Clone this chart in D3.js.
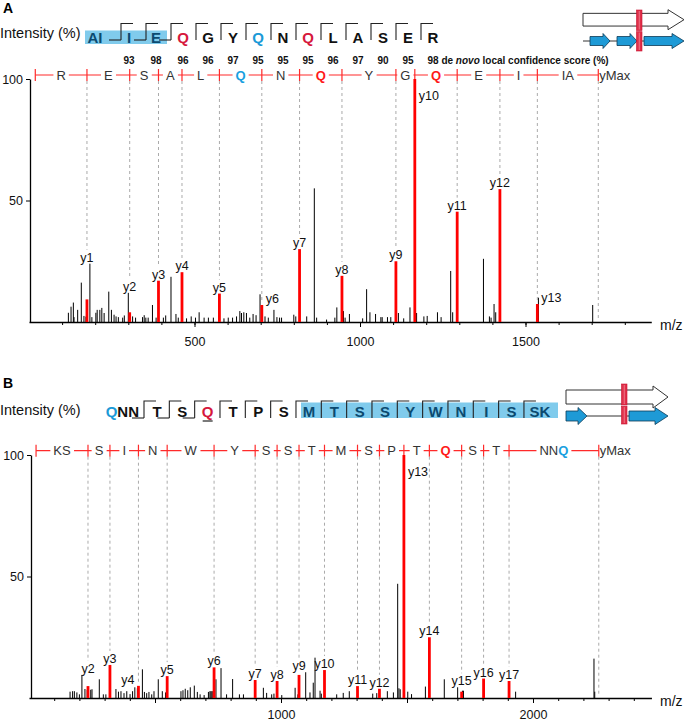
<!DOCTYPE html>
<html><head><meta charset="utf-8">
<script src="https://cdn.jsdelivr.net/npm/d3@7"></script>
<style>body{margin:0;background:#fff}svg{display:block;font-family:"Liberation Sans",Arial,sans-serif}</style>
</head><body><svg id="c" width="685" height="723"></svg>
<script>
// ================= DATA =================
// Panel A
const seqA = ["AI","I","E","Q*","G","Y","Q^","N","Q*","L","A","S","E","R"];
const confA = [93,98,96,96,97,95,95,95,96,97,90,95,98];
const ladderA = ["R","E","S","A","L","Q^","N","Q*","Y","G","Q*","E","I","IA"];
const ladderMzA = [19,175.1,304.2,391.2,462.2,575.3,703.4,817.4,945.5,1108.5,1165.6,1293.6,1422.7,1535.8,1719.9];
const ionNamesA = ["y1","y2","y3","y4","y5","y6","y7","y8","y9","y10","y11","y12","y13"];
const ionIntA = [9.3,4,17,20.5,11.7,7,30,19,25,100,45.4,54.7,7.4];
const peaksA = [[119,3.8],[127,6.3],[134,8],[136,2],[147,5],[158,16.2],[166,2.5],[172,2.2],[184,24],[190,2],
 [202,3.8],[206,5],[214,5],[220,5.8],[227,3.7],[241,12.5],[249,5],[257,3],[263,2.3],[270,2],[283,1.8],[288,2.7],
 [300,12],[313,2.3],[322,1.8],[343,2],[348,2.8],[353,1.8],[360,1.8],[373,7],[384,1.8],[406,1.8],[413,2.7],
 [429,18.6],[444,3.3],[451,1.8],[476,1.5],[490,2.3],[503,1.8],[514,4],[529,1.8],[542,1.8],[557,1.8],[589,1.5],
 [602,1.8],[615,1.8],[627,2.3],[637,4.5],[642,3.7],[649,4],[657,3.7],[667,1.8],[677,3.3],[686,2.8],[698,11.4],
 [713,2.3],[723,1.8],[740,5],[749,2],[757,1.8],[763,1.8],[800,3],[806,2.3],[839,2.3],[862,55],[869,1.8],[899,1],
 [924,1.8],[930,6],[950,4.5],[955,1.8],[968,3.3],[1008,1.5],[1020,13.5],[1030,4],[1047,3.3],[1063,2],[1067,2],
 [1083,2],[1093,2],[1116,3.7],[1132,1.5],[1151,6],[1171,3.7],[1193,2.3],[1203,2.5],[1234,4],[1245,2],[1274,21],
 [1280,4],[1373,26],[1391,2.3],[1396,1.8],[1405,7.4],[1410,4],[1539,10],[1703,7]];
const tickLabelsA = [500,1000,1500];

// Panel B
const seqB = ["Q^","N","N","T","S","Q*","T","P","S","M","T","S","S","Y","W","N","I","S","SK"];
const ladderB = ["KS","S","I","N","W","Y","S","S","T","M","S","P","T","Q*","S","T","NNQ^"];
const ladderMzB = [28,234.1,321.2,434.3,548.3,734.4,897.5,984.5,1071.5,1172.6,1303.6,1390.7,1487.7,1588.8,1716.8,1803.9,1905.0,2261.0];
const ionNamesB = ["y2","y3","y4","y5","y6","y7","y8","y9","y10","y11","y12","y13","y14","y15","y16","y17"];
const ionIntB = [4.9,13.6,5,9,12.6,7.4,7,9.5,11.5,4.9,3.8,100,25,2.6,8,7];
const peaksB = [[163,2.6],[173,2.8],[180,2.8],[190,2.3],[200,1.5],[210,9.5],[222,3.7],[231,3.4],[245,3.4],[250,3.6],
 [279,7.7],[295,1.5],[305,1.5],[345,3.7],[355,2.6],[365,2.8],[377,2],[388,2.8],[401,1.6],[411,2.8],[420,4.4],[430,4],
 [450,11.8],[458,2.5],[467,2],[476,2.5],[487,1.5],[496,2.8],[513,7.7],[529,2.8],[542,2.3],[603,2.8],[611,3.2],[620,3.8],
 [630,3.2],[640,4.4],[656,5.1],[668,2.5],[679,1.5],[695,1.2],[712,2.5],[718,2.8],[722,2.8],[726,2.8],[730,2.8],[742,7.7],
 [762,12.3],[784,1.5],[808,7.8],[835,1.5],[851,1.5],[930,4.2],[943,2.1],[963,1.5],[972,1.8],[1003,1.2],[1056,4.2],
 [1067,1.5],[1098,10.6],[1115,2.3],[1128,6.3],[1135,16.6],[1155,3],[1160,1.8],[1221,1.5],[1247,2.1],[1271,2.8],
 [1364,1.8],[1380,2],[1422,2.8],[1446,2.3],[1463,47],[1468,4],[1473,3.6],[1503,2.6],[1518,1.6],[1573,4.7],[1648,7.7],
 [1701,4.4],[1720,3],[1724,3],[1931,2.6],[2242,16.2],[2245,2.6]];
const tickLabelsB = [1000,2000];

// ================= DRAW =================
const svg = d3.select("#c");
const COL = {r:"#ff1a1a", b:"#1aa0e0", n:"#333"};
const SEQCOL = {r:"#d6183c", b:"#1b9ad7", n:"#111", h:"#0b4a70"};

function segs(s){
  const out=[]; const re=/([A-Za-z])([*^]?)/g; let m;
  while((m=re.exec(s))){
    const st = m[2]==='*'?'r':(m[2]==='^'?'b':'n');
    if(out.length && out[out.length-1].st===st) out[out.length-1].t+=m[1];
    else out.push({t:m[1],st});
  }
  return out;
}
function arrowPath(x1,x2,head,yc,bh,hh){
  const xs=x2-head;
  return `M${x1},${yc-bh/2}H${xs}V${yc-hh/2}L${x2},${yc}L${xs},${yc+hh/2}V${yc+bh/2}H${x1}Z`;
}

function drawPanel(P){
  const g = svg.append("g");
  g.append("text").attr("x",3).attr("y",P.nameY).text(P.name)
    .attr("font-weight","bold").attr("font-size",14).attr("fill","#000");
  g.append("text").attr("x",0).attr("y",P.introY).text("Intensity (%)")
    .attr("font-size",14.5).attr("fill","#111");

  // ---- sequence with highlight and fragment brackets
  g.append("rect").attr("x",P.hi[0]).attr("y",P.hiY[0]).attr("width",P.hi[1]-P.hi[0])
    .attr("height",P.hiY[1]-P.hiY[0]).attr("fill","#80cbec");
  const br = g.append("g").attr("stroke","#222").attr("stroke-width",1.1).attr("fill","none");
  P.seq.forEach((tok,k)=>{
    if(k<P.first) return;
    const x = P.bx(k);
    br.append("path").attr("d",`M${x},${P.brY[1]}V${P.brY[0]}h12`);
    if(P.botLeft.includes(k)) br.append("path").attr("d",`M${x},${P.brY[1]}h-12`);
  });
  const inHi = k => k>=P.hiTok[0] && k<=P.hiTok[1];
  if(P.group>0){
    const t = g.append("text").attr("x",P.bx(P.group)-5).attr("y",P.seqY).attr("text-anchor","end")
      .attr("font-weight","bold").attr("font-size",15);
    P.seq.slice(0,P.group).forEach(tok=>segs(tok).forEach(s=>t.append("tspan").text(s.t).attr("fill",SEQCOL[s.st])));
  }
  P.seq.forEach((tok,k)=>{
    if(k<P.group) return;
    const cx = P.cx(k);
    const t = g.append("text").attr("x",cx).attr("y",P.seqY).attr("text-anchor","middle")
      .attr("font-weight","bold").attr("font-size",15);
    segs(tok).forEach(s=>{
      let c = SEQCOL[s.st];
      if(s.st==='n' && inHi(k)) c = SEQCOL.h;
      t.append("tspan").text(s.t).attr("fill",c);
    });
    if(P.underline===k){
      g.append("line").attr("x1",cx-5).attr("x2",cx+5).attr("y1",P.seqY+4).attr("y2",P.seqY+4)
        .attr("stroke","#222").attr("stroke-width",1.2);
    }
  });
  if(P.conf){
    P.conf.forEach((v,i)=>{
      const k=i+1, cx=P.cx(k);
      if(i<P.conf.length-1){
        g.append("text").attr("x",cx).attr("y",64).attr("text-anchor","middle")
          .attr("font-weight","bold").attr("font-size",10).attr("fill","#111").text(v);
      } else {
        const t=g.append("text").attr("x",cx-5.5).attr("y",64).attr("font-weight","bold")
          .attr("font-size",10).attr("fill","#111");
        t.append("tspan").text(v+" de ");
        t.append("tspan").text("novo").attr("font-style","italic");
        t.append("tspan").text(" local confidence score (%)");
      }
    });
  }

  // ---- gene arrows
  const ar = P.arrows;
  g.append("path").attr("d",arrowPath(ar.out[0],ar.out[1],ar.out[2],ar.outY,ar.outBH,ar.outHH))
    .attr("fill","#fff").attr("stroke","#333").attr("stroke-width",1);
  g.append("line").attr("x1",ar.line[0]).attr("x2",ar.line[1]).attr("y1",ar.blueY).attr("y2",ar.blueY)
    .attr("stroke","#333").attr("stroke-width",1);
  ar.blue.forEach(b=>{
    g.append("path").attr("d",arrowPath(b[0],b[1],b[2],ar.blueY,ar.blueBH,ar.blueHH))
      .attr("fill","#1e9ad6").attr("stroke","#0d3a55").attr("stroke-width",0.8);
  });
  [[ar.redY[0],ar.redY[1]],[ar.redY[1]+1.2,ar.redY[2]]].forEach(r=>{
    g.append("rect").attr("x",ar.redX).attr("y",r[0]).attr("width",5.5).attr("height",r[1]-r[0])
      .attr("fill","#e0304a").attr("stroke","#c8102e").attr("stroke-width",0.6);
    g.append("line").attr("x1",ar.redX+2.75).attr("x2",ar.redX+2.75).attr("y1",r[0]+1).attr("y2",r[1]-1)
      .attr("stroke","#f08a98").attr("stroke-width",0.8);
  });

  // ---- scales and axes
  const x = d3.scaleLinear().domain(P.xDomain).range(P.xRange);
  const y = d3.scaleLinear().domain([0,100]).range(P.yRange);
  const y0 = y(0);
  const minor = d3.range(100, P.xDomain[1]+1, 100);
  const major = d3.range(500, P.xDomain[1]+1, 500);
  g.append("g").attr("transform",`translate(0,${y0})`)
    .call(d3.axisBottom(x).tickValues(minor).tickSize(3).tickSizeOuter(0).tickFormat(""))
    .call(a=>{a.select(".domain").attr("stroke","#000").attr("stroke-width",1.3);a.selectAll("line").attr("stroke","#000");});
  g.append("g").attr("transform",`translate(0,${y0})`)
    .call(d3.axisBottom(x).tickValues(major).tickSize(5).tickSizeOuter(0).tickPadding(P.tickPad)
      .tickFormat(d=>P.tickLabels.includes(d)?d:""))
    .call(a=>{a.select(".domain").remove();a.selectAll("line").attr("stroke","#000");
      a.selectAll("text").attr("font-size",12.5).attr("fill","#111").attr("font-family","Liberation Sans, Arial, sans-serif");});
  g.append("g").attr("transform",`translate(${P.yAxisX},0)`)
    .call(d3.axisLeft(y).tickValues([50,100]).tickSize(4).tickSizeOuter(0).tickPadding(3))
    .call(a=>{a.select(".domain").attr("stroke","#000").attr("stroke-width",1.3);a.selectAll("line").attr("stroke","#000");
      a.selectAll("text").attr("font-size",12.5).attr("fill","#111").attr("font-family","Liberation Sans, Arial, sans-serif");});
  g.append("text").attr("x",660).attr("y",y0+7.5).text("m/z").attr("font-size",14).attr("fill","#111");

  // ---- peaks
  g.append("g").selectAll("line").data(P.peaks).join("line")
    .attr("x1",d=>x(d[0])).attr("x2",d=>x(d[0])).attr("y1",y0).attr("y2",d=>y(d[1]))
    .attr("stroke","#000").attr("stroke-width",1);
  const ions = P.ionNames.map((n,i)=>({name:n, mz:P.ladderMz[i+1], v:P.ionInt[i]}));
  const allTops = P.peaks.map(d=>[x(d[0]),y(d[1])]).concat(ions.map(d=>[x(d.mz),y(d.v)]));

  // ---- ladder
  const LY = P.ladderY;
  const lad = g.append("g");
  const bxs = P.ladderMz.map(m=>x(m));
  lad.append("line").attr("x1",bxs[0]).attr("x2",bxs[bxs.length-1]).attr("y1",LY).attr("y2",LY)
    .attr("stroke","#ff2a2a").attr("stroke-width",1.2);
  ions.forEach((d,i)=>{
    const px=x(d.mz), top=y(d.v);
    const side=P.sides[d.name]||'c';
    const near = allTops.filter(t=>Math.abs(t[0]-px)<=8).map(t=>t[1]);
    const maxTop = Math.min(...near);
    let lx, ly, anchor;
    if(side==='c'){ lx=px; ly=maxTop-2; anchor="middle"; }
    else if(side==='r'){ lx=px+4; ly = d.v>90 ? top+21 : top-2; anchor="start"; }
    else { lx=px-4; ly=top-2; anchor="end"; }
    d.lx=lx; d.ly=ly; d.anchor=anchor;
    const endY = side==='c' ? ly-12 : (d.v>90 ? top : top-2);
    if(endY > LY+7) g.append("line").attr("x1",px).attr("x2",px).attr("y1",LY+6).attr("y2",endY)
      .attr("stroke","#aaa").attr("stroke-dasharray","3,3").attr("stroke-width",1);
  });
  const xm = bxs[bxs.length-1];
  g.append("line").attr("x1",xm).attr("x2",xm).attr("y1",LY+6).attr("y2",y0-3)
    .attr("stroke","#aaa").attr("stroke-dasharray","3,3").attr("stroke-width",1);
  g.append("g").selectAll("line").data(ions).join("line")
    .attr("x1",d=>x(d.mz)).attr("x2",d=>x(d.mz)).attr("y1",y0).attr("y2",d=>y(d.v))
    .attr("stroke","#ff0000").attr("stroke-width",2.8);
  g.append("g").selectAll("text").data(ions).join("text")
    .attr("x",d=>d.lx).attr("y",d=>d.ly).attr("text-anchor",d=>d.anchor)
    .attr("font-size",12.5).attr("fill","#111").text(d=>d.name);
  bxs.forEach(bx=>lad.append("line").attr("x1",bx).attr("x2",bx).attr("y1",LY-6).attr("y2",LY+6)
    .attr("stroke","#ff2a2a").attr("stroke-width",1.2));
  P.ladderLabels.forEach((lab,i)=>{
    const cx=(bxs[i]+bxs[i+1])/2;
    const t=lad.append("text").attr("x",cx).attr("y",LY+4.6).attr("text-anchor","middle").attr("font-size",13);
    segs(lab).forEach(s=>t.append("tspan").text(s.t).attr("fill",COL[s.st]).attr("font-weight",s.st==='n'?"normal":"bold"));
    const bb=t.node().getBBox();
    lad.insert("rect","text").attr("x",bb.x-3).attr("y",LY-3).attr("width",bb.width+6).attr("height",6).attr("fill","#fff");
  });
  lad.append("text").attr("x",xm+1).attr("y",LY+4.6).attr("font-size",13).attr("fill","#333").text("yMax");
}

const leadA = [95,129,156];  // letter centres of the highlighted lead residues in panel A
drawPanel({
  name:"A", nameY:13, introY:38,
  seq:seqA, first:1, group:0, botLeft:[1,2,3], underline:-1,
  bx:k=>121+(k-1)*25, cx:k=>k<3?leadA[k]:121+(k-1)*25+12,
  seqY:42.5, brY:[23.5,40], hi:[85,167], hiY:[30.5,44], hiTok:[0,2], conf:confA,
  arrows:{out:[583,684,16],outY:19.7,outBH:12.7,outHH:20,line:[583,644],blueY:41,blueBH:9,blueHH:15,
    blue:[[590,610,7],[617,637,7],[644,684,12]],redX:636.5,redY:[10,30.5,51]},
  xDomain:[0,1880], xRange:[29,29+1880*0.331], yRange:[322,79], yAxisX:30, tickPad:10,
  tickLabels:tickLabelsA, peaks:peaksA, ionNames:ionNamesA, ionInt:ionIntA,
  ladderMz:ladderMzA, ladderLabels:ladderA, ladderY:75, sides:{y6:'r',y10:'r',y13:'r'}
});
drawPanel({
  name:"B", nameY:388, introY:414.5,
  seq:seqB, first:3, group:3, botLeft:[3,4,5], underline:5,
  bx:k=>144+(k-3)*25.33, cx:k=>144+(k-3)*25.33+(k===18?16:13),
  seqY:417, brY:[401,418], hi:[301,558], hiY:[402.5,418], hiTok:[9,18], conf:null,
  arrows:{out:[566,668,15],outY:397,outBH:14,outHH:22,line:[587,629],blueY:416,blueBH:10,blueHH:17,
    blue:[[566,587,9],[629,668,13]],redX:621.5,redY:[384,405,424]},
  xDomain:[0,2470], xRange:[29,29+2470*0.252], yRange:[698,455], yAxisX:31, tickPad:7,
  tickLabels:tickLabelsB, peaks:peaksB, ionNames:ionNamesB, ionInt:ionIntB,
  ladderMz:ladderMzB, ladderLabels:ladderB, ladderY:450.7, sides:{y4:'l',y13:'r'}
});
</script></body></html>
